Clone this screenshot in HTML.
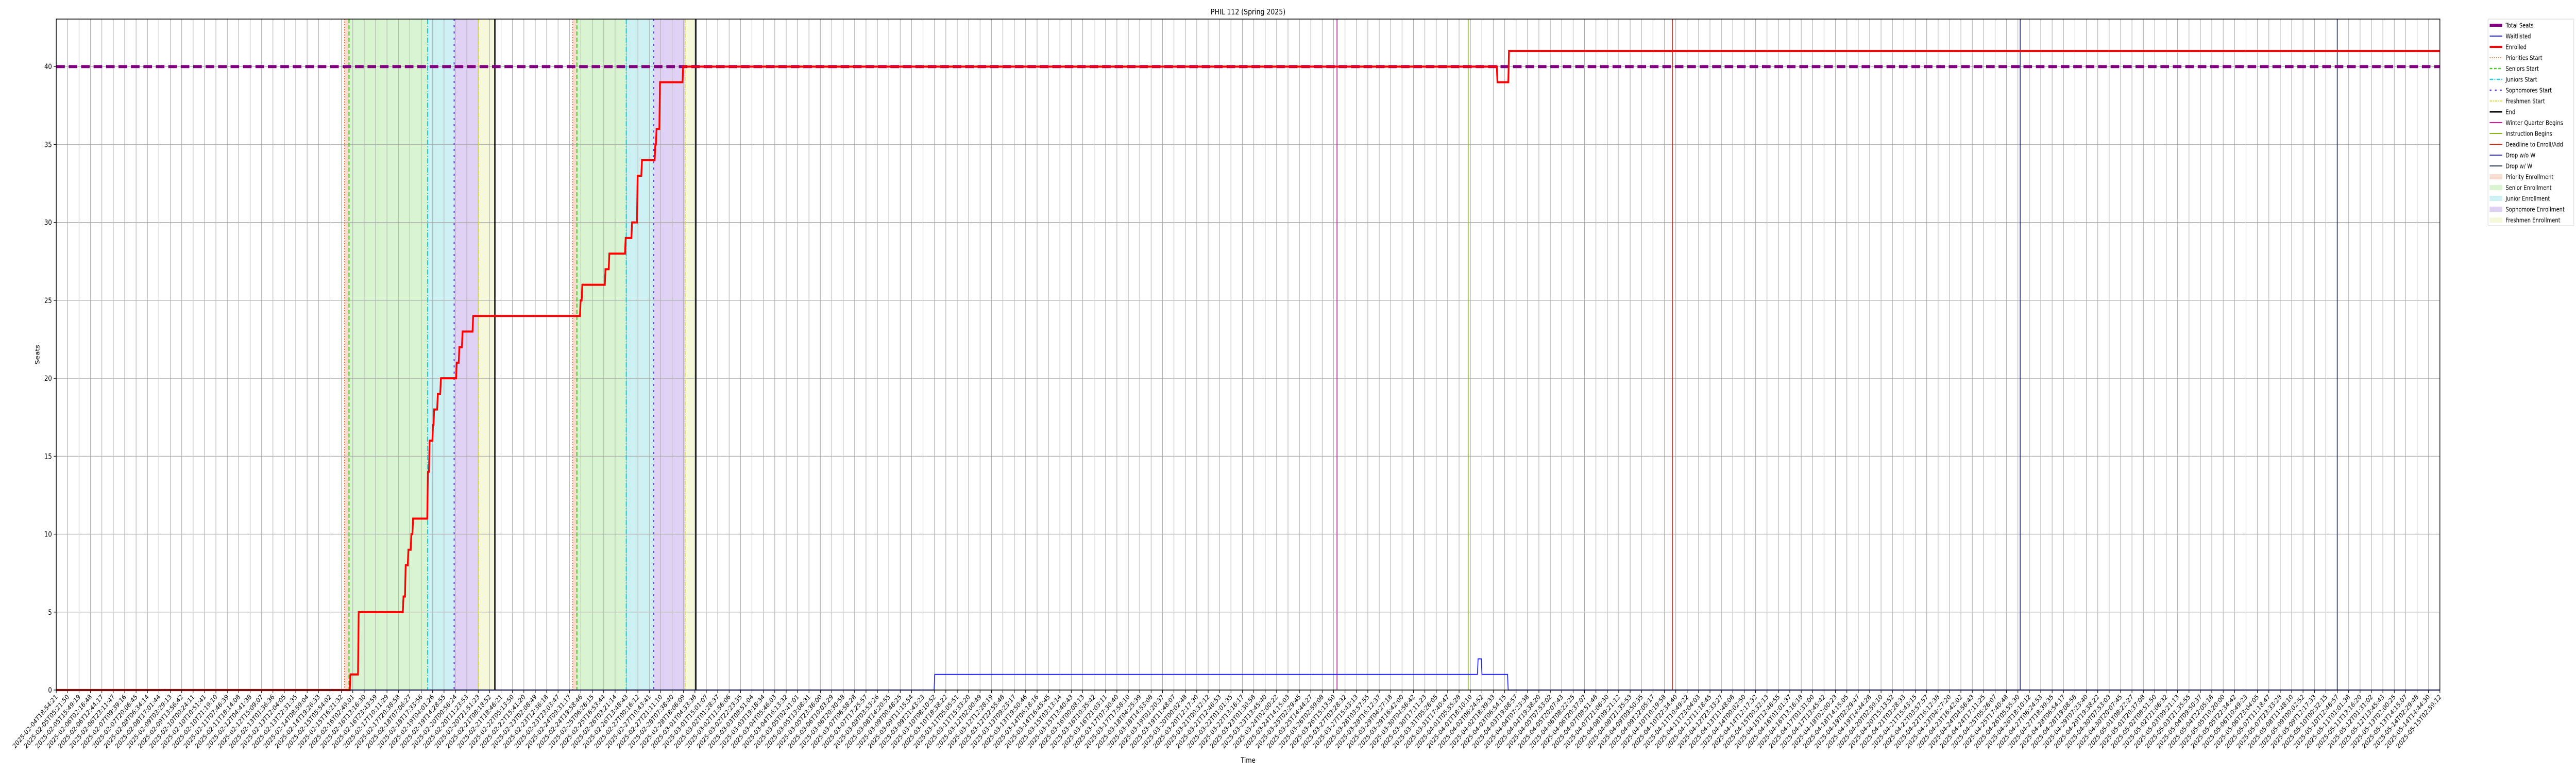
<!DOCTYPE html>
<html><head><meta charset="utf-8"><style>
html,body{margin:0;padding:0;background:#fff;width:100%;height:100%;overflow:hidden;}
svg{display:block;overflow:hidden;width:100vw;height:100vh;font-family:"DejaVu Sans","Liberation Sans",sans-serif;}
</style></head>
<body>
<svg id="chart" viewBox="0 0 6000 1500" preserveAspectRatio="none" xmlns="http://www.w3.org/2000/svg">
<rect x="0" y="0" width="6000" height="1500" fill="#fff"/>
<text x="2907" y="28" font-size="15" text-anchor="middle">PHIL 112 (Spring 2025)</text>
<text x="2907" y="1480" font-size="14" text-anchor="middle">Time</text>
<text transform="translate(92,688) rotate(-90)" font-size="14" text-anchor="middle">Seats</text>
<g id="plot"></g>
<g id="legend"></g>
</svg>
<script>
// ---- data (x in category-index units, y in seats) ----
const totalSeats = [40];
const enrolledX = [0, 25.74, 26.46, 30.39, 30.58, 30.82, 31.08, 31.23, 32.53, 32.68, 32.98, 33.08, 33.40, 33.67, 35.06, 35.29, 35.57, 36.50, 45.92, 46.07, 48.10, 48.44, 49.87, 50.43, 50.92, 51.30, 52.47, 52.58, 52.88, 54.91, 126.31, 127.32];
const enrolledY = [0, 1, 5, 6, 8, 9, 10, 11, 14, 16, 17, 18, 19, 20, 21, 22, 23, 24, 25, 26, 27, 28, 29, 30, 33, 34, 35, 36, 39, 40, 39, 41];
const waitX = [0, 76.97, 124.61, 124.95, 127.25];
const waitY = [0, 1, 2, 1, 0];
const phaseNames = ["Priority Enrollment","Senior Enrollment","Junior Enrollment","Sophomore Enrollment","Freshmen Enrollment"];
const phaseStarts1 = [25.28, 25.67, 32.56, 34.89, 37.03];
const phaseEnds1 = [25.67, 32.56, 34.89, 37.03, 38.46];
const phaseStarts2 = [45.28, 45.65, 49.98, 52.39, 55.14];
const phaseEnds2 = [45.65, 49.98, 52.39, 55.14, 56.08];
const endLines = [38.46, 56.08];
const eventNames = ["Winter Quarter Begins","Instruction Begins","Deadline to Enroll/Add","Drop w/o W","Drop w/ W"];
const eventX = [112.3, 123.8, 141.7, 172.2, 200.0];
const yTicks = [0, 5, 10, 15, 20, 25, 30, 35, 40];
const nTicks = 210;
const tickAnchorsIdx = [0, 98, 209];
const tickAnchorsTime = ["2025-02-04T18:54:21Z", "2025-03-19T11:48:07Z", "2025-05-15T02:59:12Z"];

// ---- axes ----
const L = 131, R = 5683, T = 37, B = 1339;
const XMAX = 209, YMAX = 43.05;
const xs = v => L + (v / XMAX) * (R - L);
const ys = v => B - (v / YMAX) * (B - T);
const NS = "http://www.w3.org/2000/svg";
const plot = document.getElementById('plot');
function mk(tag, attrs, parent) {
  const e = document.createElementNS(NS, tag);
  for (const k in attrs) e.setAttribute(k, attrs[k]);
  (parent || plot).appendChild(e);
  return e;
}
const phaseFill = ["#f8dcd0","#d9f4d0","#cdf0f2","#e0d2f4","#f6f8da"];
const phaseLine = [
  {c:"#ee6a2a", w:2, d:"2,3"},
  {c:"#44cc22", w:2.5, d:"8,4"},
  {c:"#22ccdd", w:2.5, d:"10,3,2,3"},
  {c:"#6633dd", w:2.5, d:"4,8"},
  {c:"#dddd33", w:2, d:"8,2,2,2"}
];
const eventColors = ["#dd10a0","#88bb11","#dd2211","#3333aa","#2a3a5a"];

[[phaseStarts1, phaseEnds1],[phaseStarts2, phaseEnds2]].forEach((pair, ci) => {
  pair[0].forEach((s, i) => {
    const r = mk('rect', {x: xs(s), y: T, width: xs(pair[1][i]) - xs(s), height: B - T, fill: phaseFill[i]});
    
    
  });
});

for (let i = 0; i < nTicks; i++) {
  const g = mk('line', {x1: xs(i), x2: xs(i), y1: T, y2: B, stroke: "#b0b0b0", 'stroke-width': 1.3});
  
  
}
yTicks.forEach(v => {
  const g = mk('line', {x1: L, x2: R, y1: ys(v), y2: ys(v), stroke: "#b0b0b0", 'stroke-width': 1.3});
  
  
});

[phaseStarts1, phaseStarts2].forEach(arr => {
  arr.forEach((s, i) => {
    const st = phaseLine[i];
    const l = mk('line', {x1: xs(s), x2: xs(s), y1: T, y2: B, stroke: st.c, 'stroke-width': st.w, 'stroke-dasharray': st.d});
    
    
  });
});
endLines.forEach(v => {
  const l = mk('line', {x1: xs(v), x2: xs(v), y1: T, y2: B, stroke: "#000", 'stroke-width': 3});
  
  
});
eventX.forEach((v, i) => {
  const l = mk('line', {x1: xs(v), x2: xs(v), y1: T, y2: B, stroke: eventColors[i], 'stroke-width': 2});
  
  
});

const ts = mk('line', {x1: L, x2: R, y1: ys(totalSeats[0]), y2: ys(totalSeats[0]), stroke: "#800080", 'stroke-width': 6, 'stroke-dasharray': "20,9"});



function stepPath(X, Y) {
  let d = 'M' + xs(X[0]) + ',' + ys(Y[0]);
  for (let i = 1; i < X.length; i++) {
    d += ' L' + xs(X[i]) + ',' + ys(Y[i-1]) + ' L' + (xs(X[i]) + 1.5) + ',' + ys(Y[i]);
  }
  d += ' L' + xs(XMAX) + ',' + ys(Y[Y.length-1]);
  return d;
}
const wl = mk('path', {d: stepPath(waitX, waitY), fill: "none", stroke: "#2222ff", 'stroke-width': 2});


const el = mk('path', {d: stepPath(enrolledX, enrolledY), fill: "none", stroke: "#ff0000", 'stroke-width': 4, 'stroke-linejoin': 'miter'});



const fr = mk('rect', {x: L, y: T, width: R - L, height: B - T, fill: "none", stroke: "#000", 'stroke-width': 1.5});



yTicks.forEach(v => {
  const t = mk('line', {x1: L - 6, x2: L, y1: ys(v), y2: ys(v), stroke: "#000", 'stroke-width': 1.2});
  
  
  const tx = mk('text', {x: L - 10, y: ys(v) + 5, 'font-size': 14, 'text-anchor': 'end'});
  tx.textContent = String(v);
  
  
});

const anchorMs = tickAnchorsTime.map(s => Date.parse(s));
function tickTime(i) {
  let k = 0;
  while (k < tickAnchorsIdx.length - 2 && i > tickAnchorsIdx[k+1]) k++;
  const f = (i - tickAnchorsIdx[k]) / (tickAnchorsIdx[k+1] - tickAnchorsIdx[k]);
  const ms = anchorMs[k] + f * (anchorMs[k+1] - anchorMs[k]);
  return new Date(ms).toISOString().slice(0, 19);
}
for (let i = 0; i < nTicks; i++) {
  const t = mk('line', {x1: xs(i), x2: xs(i), y1: B, y2: B + 6, stroke: "#000", 'stroke-width': 1.2});
  
  
  const tx = mk('text', {'font-size': 13, 'text-anchor': 'end', transform: 'translate(' + (xs(i) + 4) + ',' + (B + 14) + ') rotate(-45)'});
  tx.textContent = tickTime(i);
  
  
}

const lg = document.getElementById('legend');
const box = mk('rect', {x: 5795, y: 37, width: 200, height: 401, fill: "#fff", stroke: "#d0d0d0", 'stroke-width': 1, rx: 2}, lg);


const entries = [
  {n:"Total Seats", t:"line", c:"#800080", w:6},
  {n:"Waitlisted", t:"line", c:"#2222ff", w:2},
  {n:"Enrolled", t:"line", c:"#ff0000", w:4},
  {n:"Priorities Start", t:"line", c:"#ee6a2a", w:2, d:"2,3"},
  {n:"Seniors Start", t:"line", c:"#44cc22", w:2.5, d:"6,4"},
  {n:"Juniors Start", t:"line", c:"#22ccdd", w:2.5, d:"8,3,2,3"},
  {n:"Sophomores Start", t:"line", c:"#6633dd", w:2.5, d:"4,8"},
  {n:"Freshmen Start", t:"line", c:"#dddd33", w:2, d:"6,2,2,2"},
  {n:"End", t:"line", c:"#000", w:3},
  {n:"Winter Quarter Begins", t:"line", c:eventColors[0], w:2},
  {n:"Instruction Begins", t:"line", c:eventColors[1], w:2},
  {n:"Deadline to Enroll/Add", t:"line", c:eventColors[2], w:2},
  {n:"Drop w/o W", t:"line", c:eventColors[3], w:2},
  {n:"Drop w/ W", t:"line", c:eventColors[4], w:2},
  {n:phaseNames[0], t:"rect", c:phaseFill[0]},
  {n:phaseNames[1], t:"rect", c:phaseFill[1]},
  {n:phaseNames[2], t:"rect", c:phaseFill[2]},
  {n:phaseNames[3], t:"rect", c:phaseFill[3]},
  {n:phaseNames[4], t:"rect", c:phaseFill[4]}
];
entries.forEach((e, i) => {
  const cy = 49 + i * 21;
  const g = mk('g', {}, lg);
  
  
  if (e.t === "line") {
    const a = {x1: 5799, x2: 5828, y1: cy, y2: cy, stroke: e.c, 'stroke-width': e.w};
    if (e.d) a['stroke-dasharray'] = e.d;
    mk('line', a, g);
  } else {
    mk('rect', {x: 5799, y: cy - 5, width: 29, height: 10, fill: e.c}, g);
  }
  const tx = mk('text', {x: 5836, y: cy + 4.5, 'font-size': 12}, g);
  tx.textContent = e.n;
});
</script>
</body></html>
